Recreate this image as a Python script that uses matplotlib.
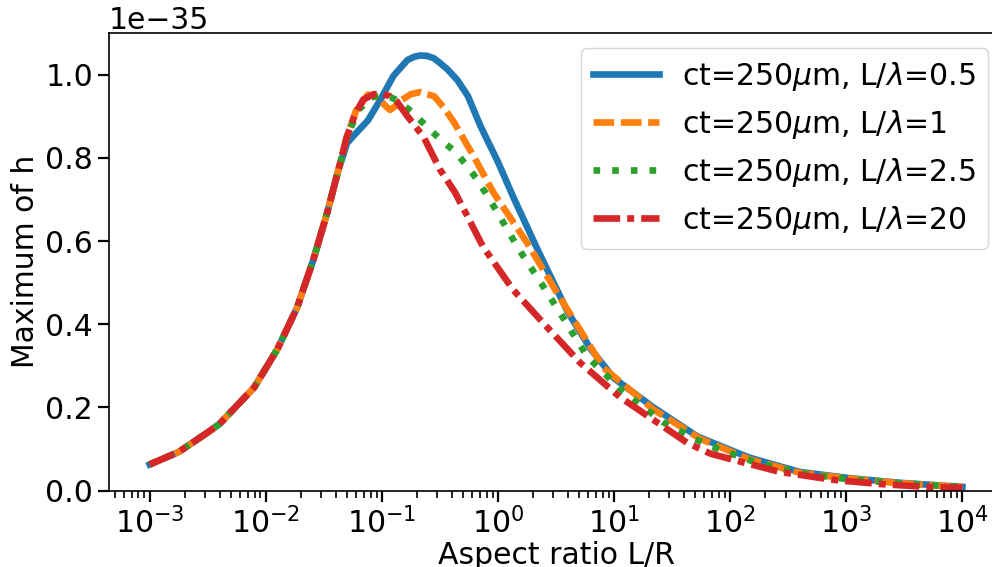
import numpy as np
import matplotlib
matplotlib.use("Agg")
import matplotlib.pyplot as plt

# values; x given as log10(L/R), y in units of 1e-35
rise_lx = [-3.0, -2.75, -2.5, -2.4, -2.1, -1.9, -1.73, -1.59, -1.47, -1.38]
rise_y = [0.063, 0.093, 0.14, 0.160, 0.248, 0.34, 0.44, 0.555, 0.669, 0.765]

blue_lx = [-1.30, -1.26, -1.20, -1.12, -1.01, -0.90, -0.78, -0.72, -0.67, -0.61, -0.55, -0.50,
           -0.44, -0.35, -0.26, -0.15, 0.0, 0.13, 0.34, 0.6, 0.8, 1.0, 1.34, 1.72, 2.0, 2.17,
           2.6, 3.03, 3.46, 4.0]
blue_y = [0.835, 0.848, 0.866, 0.890, 0.941, 0.997, 1.035, 1.043, 1.046, 1.045, 1.039, 1.028,
          1.014, 0.987, 0.949, 0.876, 0.79, 0.707, 0.580, 0.43, 0.34, 0.27, 0.200, 0.130, 0.098,
          0.079, 0.045, 0.030, 0.019, 0.009]

orange_lx = [-1.30, -1.22, -1.12, -1.03, -0.97, -0.93, -0.88, -0.84, -0.75, -0.67, -0.55, -0.47,
             -0.38, -0.21, -0.04, 0.25, 0.51, 0.91, 1.34, 1.74, 2.17, 2.6, 3.03, 3.46, 4.0]
orange_y = [0.852, 0.915, 0.952, 0.945, 0.925, 0.915, 0.925, 0.937, 0.953, 0.958, 0.948, 0.922,
            0.886, 0.804, 0.717, 0.596, 0.475, 0.295, 0.195, 0.125, 0.075, 0.043, 0.029, 0.018,
            0.009]

green_lx = [-1.30, -1.20, -1.10, -1.0, -0.92, -0.86, -0.74, -0.62, -0.48, -0.37, -0.28, -0.19,
            -0.11, -0.02, 0.13, 0.22, 0.39, 0.56, 0.77, 1.07, 1.42, 1.8, 2.2, 2.6, 3.0, 3.5, 4.0]
green_y = [0.852, 0.915, 0.945, 0.950, 0.945, 0.937, 0.910, 0.877, 0.840, 0.815, 0.785, 0.752,
           0.717, 0.676, 0.604, 0.563, 0.491, 0.416, 0.322, 0.24, 0.165, 0.11, 0.07, 0.042,
           0.028, 0.017, 0.009]

red_lx = [-1.30, -1.23, -1.16, -1.07, -0.99, -0.93, -0.87, -0.78, -0.64, -0.50, -0.37, -0.24,
          -0.13, 0.0, 0.13, 0.42, 0.71, 1.05, 1.63, 1.83, 2.03, 2.43, 2.89, 3.29, 3.70, 4.0]
red_y = [0.852, 0.905, 0.940, 0.953, 0.953, 0.948, 0.935, 0.900, 0.850, 0.772, 0.717, 0.647,
         0.587, 0.535, 0.483, 0.394, 0.307, 0.225, 0.115, 0.089, 0.074, 0.045, 0.026, 0.016,
         0.009, 0.007]

labels = [r"ct=250$\mu$m, L/$\lambda$=0.5", r"ct=250$\mu$m, L/$\lambda$=1",
          r"ct=250$\mu$m, L/$\lambda$=2.5", r"ct=250$\mu$m, L/$\lambda$=20"]

series = [(blue_lx, blue_y, "#1f77b4", None),
          (orange_lx, orange_y, "#ff7f0e", (3.1, 1.0)),
          (green_lx, green_y, "#2ca02c", (1.0, 1.8)),
          (red_lx, red_y, "#d62728", (4.0, 1.05, 1.05, 1.05))]

FS = 21.5

fig = plt.figure(figsize=(9.92, 5.67), dpi=100)
ax = fig.add_axes([0.1099, 0.1346, 0.9012, 0.8072])

for (lx, y, color, dashes), label in zip(series, labels):
    xs = 10 ** np.array(rise_lx + lx)
    ys = np.array(rise_y + y) * 1e-35
    line, = ax.plot(xs, ys, color=color, lw=4.8, label=label)
    if dashes is not None:
        line.set_dashes(dashes)

ax.set_xscale("log")
ax.set_xlim(10 ** -3.35, 10 ** 4.35)
ax.set_ylim(0, 1.1e-35)
ax.set_xticks([10.0 ** k for k in range(-3, 5)])

ax.set_xlabel("Aspect ratio L/R", fontsize=FS, labelpad=1)
ax.set_ylabel("Maximum of h", fontsize=FS)
ax.tick_params(which="major", labelsize=FS, length=8, width=1.6)
ax.tick_params(which="minor", length=5, width=1.2)
ax.yaxis.get_offset_text().set_fontsize(FS)
for s in ax.spines.values():
    s.set_linewidth(1.2)

ax.legend(loc="upper right", fontsize=FS, handlelength=2.2)

fig.savefig("out.png", dpi=100)
